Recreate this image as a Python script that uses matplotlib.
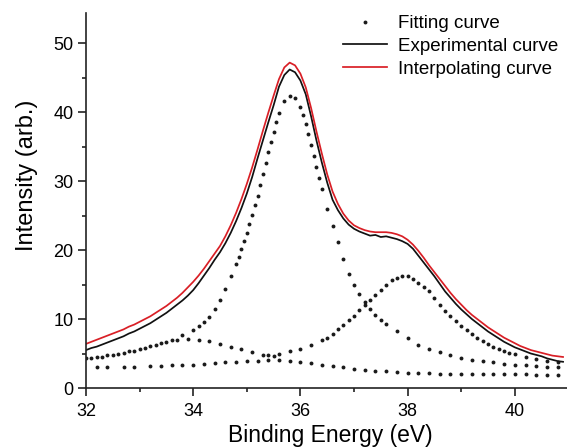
import numpy as np
import matplotlib
matplotlib.use("Agg")
import matplotlib.pyplot as plt
from matplotlib.ticker import MultipleLocator

plt.rcParams['font.family'] = ['Liberation Sans', 'DejaVu Sans']

# ---------------- data ----------------
energy = np.round(np.arange(32.0, 40.95, 0.1), 1)

experimental = [
    5.5, 5.8, 6.0, 6.3, 6.6, 6.9, 7.2, 7.5, 7.9, 8.2,
    8.6, 9.0, 9.4, 9.9, 10.4, 10.9, 11.5, 12.1, 12.7, 13.4,
    14.2, 15.2, 16.3, 17.4, 18.6, 19.7, 21.0, 22.5, 24.2, 26.1,
    28.2, 30.6, 33.3, 35.9, 38.5, 41.0, 43.7, 45.4, 46.2, 45.8,
    44.6, 42.6, 39.4, 35.9, 32.7, 29.8, 27.3, 25.8, 24.6, 23.7,
    23.1, 22.7, 22.4, 22.1, 22.2, 21.9, 22.0, 21.8, 21.6, 21.3,
    20.9, 20.2, 19.2, 18.2, 17.2, 16.2, 15.1, 14.0, 13.1, 12.2,
    11.4, 10.7, 10.0, 9.4, 8.8, 8.2, 7.7, 7.2, 6.7, 6.3,
    5.9, 5.6, 5.3, 5.0, 4.8, 4.6, 4.3, 4.1, 3.9, 3.8,
]

interpolating = [
    6.4, 6.7, 7.0, 7.3, 7.6, 7.9, 8.2, 8.5, 8.9, 9.2,
    9.6, 10.0, 10.4, 10.9, 11.4, 11.9, 12.5, 13.1, 13.8, 14.6,
    15.4, 16.3, 17.3, 18.4, 19.5, 20.6, 22.0, 23.6, 25.4, 27.4,
    29.6, 32.0, 34.6, 37.3, 39.9, 42.4, 44.8, 46.5, 47.2, 46.8,
    45.6, 43.6, 40.6, 37.2, 34.0, 31.0, 28.5, 26.7, 25.3, 24.3,
    23.6, 23.2, 22.9, 22.7, 22.6, 22.6, 22.6, 22.5, 22.3, 22.0,
    21.5, 20.8, 19.9, 18.9, 17.8, 16.8, 15.8, 14.8, 13.8, 12.9,
    12.1, 11.3, 10.6, 10.0, 9.4, 8.8, 8.3, 7.8, 7.3, 6.9,
    6.5, 6.1, 5.8, 5.5, 5.3, 5.1, 4.9, 4.7, 4.6, 4.5,
]

# fitting component 1: main peak (~35.8 eV)
fit_main_x = [32.0, 32.2, 32.4, 32.6, 32.8, 33.0, 33.2, 33.4, 33.6, 33.8,
              34.0, 34.1, 34.2, 34.3, 34.4, 34.5, 34.6, 34.7, 34.8, 34.85,
              34.9, 34.95, 35.0, 35.05, 35.1, 35.15, 35.2, 35.25, 35.3, 35.35,
              35.4, 35.45, 35.5, 35.55, 35.6, 35.7, 35.8, 35.9, 36.0, 36.05,
              36.1, 36.15, 36.2, 36.25, 36.3, 36.35, 36.4, 36.5, 36.6, 36.7,
              36.8, 36.9, 37.0, 37.1, 37.2, 37.3, 37.4, 37.5, 37.6, 37.8,
              38.0, 38.2, 38.4, 38.6, 38.8, 39.0, 39.2, 39.4, 39.6, 39.8,
              40.0, 40.2, 40.4, 40.6, 40.8]
fit_main_y = [4.3, 4.5, 4.8, 5.0, 5.4, 5.7, 6.1, 6.5, 7.0, 7.7,
              8.4, 9.0, 9.6, 10.3, 11.4, 12.8, 14.4, 16.2, 18.0, 19.0,
              20.1, 21.3, 22.5, 23.8, 25.1, 26.5, 27.9, 29.4, 31.0, 32.6,
              34.2, 35.7, 37.2, 38.6, 39.9, 41.7, 42.4, 42.1, 40.7, 39.6,
              38.3, 36.8, 35.2, 33.6, 32.0, 30.4, 28.8, 26.0, 23.5, 21.2,
              18.7, 16.5, 15.0, 13.7, 12.5, 11.5, 10.6, 9.9, 9.3, 8.3,
              7.3, 6.3, 5.7, 5.2, 4.8, 4.4, 4.1, 3.9, 3.7, 3.5,
              3.4, 3.3, 3.2, 3.1, 3.0]

# fitting component 2: small peak (~34 eV)
fit_low_x = [32.1, 32.3, 32.5, 32.7, 32.9, 33.1, 33.3, 33.5, 33.7, 33.9,
             34.1, 34.3, 34.5, 34.7, 34.9, 35.1, 35.3, 35.5]
fit_low_y = [4.3, 4.5, 4.8, 5.1, 5.4, 5.8, 6.3, 6.7, 7.0, 7.1,
             7.0, 6.8, 6.4, 6.0, 5.6, 5.2, 4.8, 4.6]

# fitting component 3: shoulder peak (~38 eV)
fit_high_x = [35.4, 35.6, 35.8, 36.0, 36.2, 36.4, 36.5, 36.6, 36.7, 36.8,
              36.9, 37.0, 37.1, 37.2, 37.3, 37.4, 37.5, 37.6, 37.7, 37.8,
              37.9, 38.0, 38.1, 38.2, 38.3, 38.4, 38.5, 38.6, 38.7, 38.8,
              38.9, 39.0, 39.1, 39.2, 39.3, 39.4, 39.5, 39.6, 39.7, 39.8,
              39.9, 40.0, 40.2, 40.4, 40.6, 40.8]
fit_high_y = [4.8, 5.0, 5.3, 5.6, 6.2, 6.9, 7.3, 7.8, 8.5, 9.2,
              9.8, 10.5, 11.3, 12.1, 12.8, 13.5, 14.2, 15.0, 15.6, 16.0,
              16.2, 16.2, 15.8, 15.2, 14.6, 14.0, 13.0, 12.1, 11.2, 10.4,
              9.7, 9.0, 8.4, 7.9, 7.3, 6.8, 6.4, 6.0, 5.7, 5.4,
              5.1, 4.9, 4.5, 4.2, 3.9, 3.7]

# fitting component 4: broad background
fit_bg_x = [32.2, 32.4, 32.7, 32.9, 33.2, 33.4, 33.6, 33.8, 34.0, 34.2,
            34.4, 34.6, 34.8, 35.0, 35.2, 35.4, 35.6, 35.8, 36.0, 36.2,
            36.4, 36.6, 36.8, 37.0, 37.2, 37.4, 37.6, 37.8, 38.0, 38.2,
            38.4, 38.6, 38.8, 39.0, 39.2, 39.4, 39.6, 39.8, 40.0, 40.2,
            40.4, 40.6, 40.8]
fit_bg_y = [3.0, 3.0, 3.1, 3.1, 3.2, 3.2, 3.3, 3.3, 3.4, 3.5,
            3.6, 3.7, 3.8, 3.9, 3.9, 4.0, 4.0, 3.9, 3.7, 3.6,
            3.4, 3.2, 3.0, 2.8, 2.6, 2.5, 2.4, 2.3, 2.2, 2.2,
            2.2, 2.1, 2.1, 2.1, 2.1, 2.0, 2.0, 2.0, 2.0, 2.0,
            1.9, 1.9, 1.9]

# ---------------- figure ----------------
W, H = 567, 448
fig = plt.figure(figsize=(W / 100, H / 100), dpi=100)
ax = fig.add_axes([86 / W, 60 / H, (W - 86) / W, (388 - 13) / H])

dot_kw = dict(linestyle='none', marker='o', markersize=2.8, color='#1a1a1a',
              markeredgewidth=0)
ax.plot(fit_bg_x, fit_bg_y, **dot_kw)
ax.plot(fit_low_x, fit_low_y, **dot_kw)
ax.plot(fit_high_x, fit_high_y, **dot_kw)
ax.plot(fit_main_x, fit_main_y, label='Fitting curve', **dot_kw)
ax.plot(energy, experimental, color='#111111', lw=1.25, label='Experimental curve')
ax.plot(energy, interpolating, color='#d91f26', lw=1.25, label='Interpolating curve')

ax.set_xlim(32, 32 + (W - 86) / 53.6)
ax.set_ylim(0, 375 / 6.894)

ax.spines['top'].set_visible(False)
ax.spines['right'].set_visible(False)
for s in ('left', 'bottom'):
    ax.spines[s].set_linewidth(1.2)
    ax.spines[s].set_color('#222222')

ax.xaxis.set_major_locator(MultipleLocator(2))
ax.xaxis.set_minor_locator(MultipleLocator(1))
ax.yaxis.set_major_locator(MultipleLocator(10))
ax.yaxis.set_minor_locator(MultipleLocator(5))
ax.tick_params(axis='both', which='major', direction='out', length=6, width=1.2,
               labelsize=13, color='#222222')
ax.tick_params(axis='both', which='minor', direction='out', length=3, width=1.2,
               color='#222222')
ax.tick_params(axis='x', which='major', pad=5)
ax.tick_params(axis='y', which='major', pad=3)

ax.set_xlabel('Binding Energy (eV)', fontsize=16.5)
ax.set_ylabel('Intensity (arb.)', fontsize=17)
ax.xaxis.set_label_coords((330 - 86) / 481, (388 - 442) / 375)
ax.xaxis.label.set_va('baseline')
ax.yaxis.set_label_coords((27 - 86) / 481, (388 - 175) / 375)
ax.yaxis.label.set_va('center')

leg = ax.legend(loc='upper left', bbox_to_anchor=(343 / W, 1 - 15 / H),
                bbox_transform=fig.transFigure, frameon=False, fontsize=13.5,
                handlelength=2.35, handletextpad=0.6, labelspacing=0.3,
                borderpad=0, borderaxespad=0, numpoints=1, markerscale=1.0)

fig.savefig('out.png', dpi=100)
